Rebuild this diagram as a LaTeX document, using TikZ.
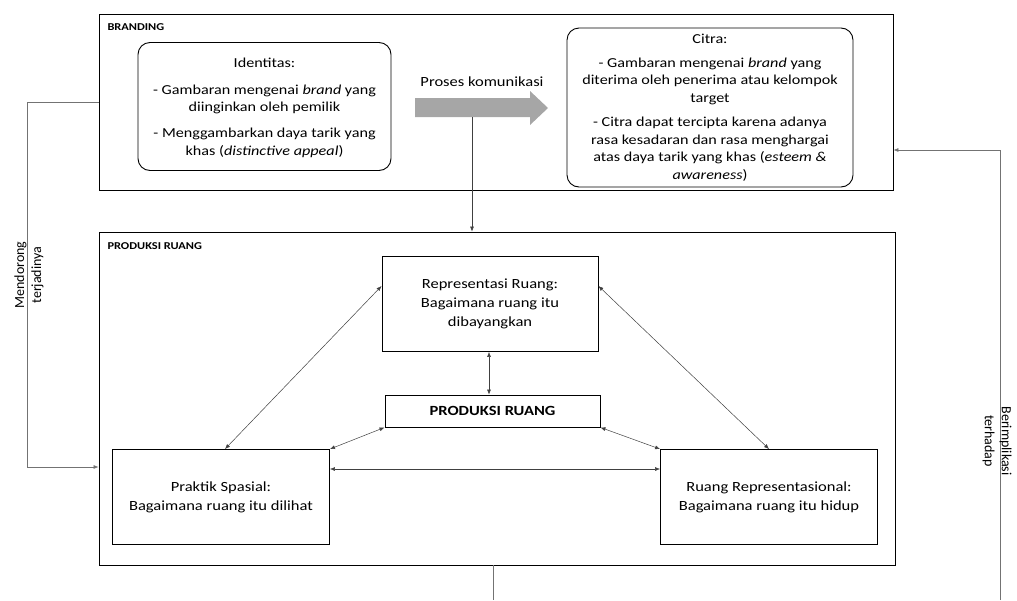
\documentclass[tikz,border=0pt]{standalone}
\usepackage{fontspec}
\setmainfont{Carlito}[FakeStretch=1.18]
\newfontfamily\sidefont{Carlito}
\usetikzlibrary{arrows.meta}
\begin{document}
\begin{tikzpicture}[x=1pt,y=-1pt,
  outer/.style={draw, line width=0.9pt, inner sep=0pt},
  rbox/.style={draw, line width=0.9pt, rounded corners=12pt, inner sep=0pt},
  txt/.style={align=center, inner sep=0pt, font=\fontsize{13.7}{17.5}\selectfont},
  sbox/.style={draw, line width=0.9pt, align=center, inner sep=0pt, font=\fontsize{14}{19}\selectfont},
  tag/.style={anchor=west, font=\bfseries\fontsize{10.5}{12}\selectfont},
  conn/.style={draw=black!75, line width=0.5pt, {Latex[length=5pt,width=4pt]}-{Latex[length=5pt,width=4pt]}},
  one/.style={draw=black!75, line width=0.5pt, -{Latex[length=5pt,width=4pt]}},
  fb/.style={draw=black!55, line width=0.6pt},
  side/.style={align=center, font=\sidefont\fontsize{14}{17}\selectfont}]
\useasboundingbox (0,0) rectangle (1017,600);

% Branding
\node[outer, minimum width=794, minimum height=176] (branding) at (496,102) {};
\node[tag] (btag) at (104,27) {BRANDING};
\node[rbox, minimum width=253, minimum height=128] (ident) at (264.5,106.5) {};
\node[txt] (identtxt) at (264.5,108)
  {Identitas:\\[9pt]- Gambaran mengenai \emph{brand} yang\\diinginkan oleh pemilik\\[8.5pt]- Menggambarkan daya tarik yang\\khas (\emph{distinctive appeal})};
\node[rbox, minimum width=286, minimum height=159] (citra) at (710,107.5) {};
\node[txt] (citratxt) at (710,107.5)
  {Citra:\\[6pt]- Gambaran mengenai \emph{brand} yang\\diterima oleh penerima atau kelompok\\target\\[7pt]- Citra dapat tercipta karena adanya\\rasa kesadaran dan rasa menghargai\\atas daya tarik yang khas (\emph{esteem \&}\\\emph{awareness})};
\node[font=\fontsize{14}{17}\selectfont] (proses) at (482,82) {Proses komunikasi};
\fill[black!35] (415,98) -- (530,98) -- (530,91) -- (548,108) -- (530,125) -- (530,117) -- (415,117) -- cycle;
\coordinate (kbase) at (472,117);

% Produksi ruang
\node[outer, minimum width=796, minimum height=333] (prodbox) at (497,398.5) {};
\node[tag] (ptag) at (104,246) {PRODUKSI RUANG};
\node[sbox, minimum width=216, minimum height=95] (rep) at (490,304)
  {Representasi Ruang:\\Bagaimana ruang itu\\dibayangkan};
\node[sbox, minimum width=215, minimum height=32, font=\bfseries\fontsize{14}{17}\selectfont] (prod) at (492.5,411) {PRODUKSI RUANG};
\node[sbox, minimum width=217, minimum height=95] (prak) at (221,497)
  {Praktik Spasial:\\Bagaimana ruang itu dilihat};
\node[sbox, minimum width=217, minimum height=95] (rr) at (769,497)
  {Ruang Representasional:\\Bagaimana ruang itu hidup};

% connectors
\draw[one] (kbase) -- (kbase |- prodbox.north);
\draw[conn] (rep.south -| 489,0) -- (prod.north -| 489,0);
\draw[conn] (prak.north -| 225,0) -- (rep.west |- 0,286);
\draw[conn] (rr.north -| 769,0) -- (rep.east |- 0,286);
\draw[conn] (prod.south west) -- (prak.north east);
\draw[conn] (prod.south east) -- (rr.north west);
\draw[conn] (prak.east |- 0,469) -- (rr.west |- 0,469);

% feedback lines
\draw[fb] (branding.west) -- (27,102) -- (27,467);
\draw[fb, -{Latex[length=5pt,width=4pt]}] (27,467) -- (prodbox.west |- 0,467);
\node[side, rotate=90] (mend) at (29,275) {Mendorong\\terjadinya};
\coordinate (bend) at (493,600);
\draw[fb] (prodbox.south -| bend) -- (bend);
\coordinate (rend) at (1000,600);
\draw[fb] (rend) -- (1000,150);
\draw[fb, -{Latex[length=5pt,width=4pt]}] (1000,150) -- (branding.east |- 0,150);
\node[side, rotate=-90] (ber) at (997,441) {Berimplikasi\\terhadap};
\end{tikzpicture}
\end{document}
